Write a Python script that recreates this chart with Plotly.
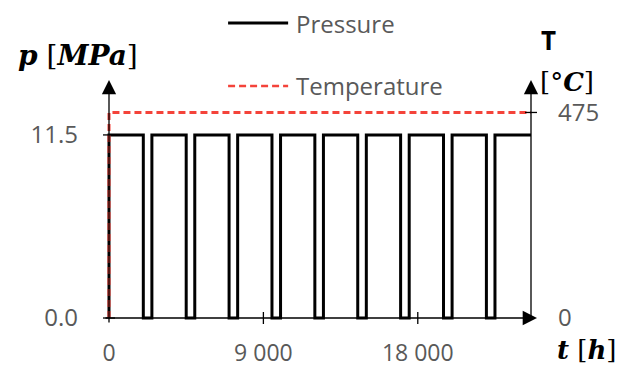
import plotly.graph_objects as go

# ---- data ----
t_end = 24600                      # h
p_level = 11.5                     # MPa
T_level = 475                      # deg C
shutdown_start = [2000, 4500, 7000, 9500, 12000, 14500, 17000, 19500, 22000]
shutdown_end = [2500, 5000, 7500, 10000, 12500, 15000, 17500, 20000, 22500]
x_tickvals = [0, 9000, 18000]
x_ticktext = ["0", "9 000", "18 000"]
p_tickvals = [0, 11.5]
p_ticktext = ["0.0", "11.5"]
T_tickvals = [0, 475]
T_ticktext = ["0", "475"]

# build pressure step signal
t_p = [0, 0]
p_p = [0, p_level]
for s, e in zip(shutdown_start, shutdown_end):
    t_p += [s, s, e, e]
    p_p += [p_level, 0, 0, p_level]
t_p.append(t_end)
p_p.append(p_level)

t_T = [0, 0, t_end]
T_T = [0, T_level, T_level]

# ---- geometry ----
W, H = 629, 367
X0PX, X1PX = 109, 530.7          # x=0 and x=t_end pixel columns
H_PER_PX = t_end / (X1PX - X0PX)
PAD = 6
x_range = [-PAD * H_PER_PX, t_end + PAD * H_PER_PX]
Y0PX, YTOP = 318.3, 80
p_per_px = p_level / (Y0PX - 135)
T_per_px = T_level / (Y0PX - 112.5)
p_top = (Y0PX - YTOP) * p_per_px
T_top = (Y0PX - YTOP) * T_per_px
p_range = [-PAD * p_per_px, p_top]
T_range = [-PAD * T_per_px, T_top]
ml = X0PX - PAD
mr = W - (X1PX + PAD)
mt = YTOP
mb = H - (Y0PX + PAD)

def px(xp):
    return (xp - ml) / (W - ml - mr)

def py(yp):
    return (H - mb - yp) / (H - mt - mb)

GRAY = "#595959"
RED = "#F4433A"
TICKFONT = dict(family="Open Sans", size=24, color=GRAY)

fig = go.Figure()
fig.add_trace(go.Scatter(x=t_p, y=p_p, mode="lines", name="Pressure",
                         line=dict(color="black", width=3), showlegend=False))
fig.add_trace(go.Scatter(x=t_T, y=T_T, mode="lines", name="Temperature", yaxis="y2",
                         line=dict(color=RED, width=3, dash="7px,4px"), showlegend=False))

fig.update_layout(
    width=W, height=H,
    margin=dict(l=ml, r=mr, t=mt, b=mb, pad=0, autoexpand=False),
    paper_bgcolor="white", plot_bgcolor="white",
    xaxis=dict(range=x_range, showgrid=False, zeroline=False, showline=False,
               tickvals=x_tickvals, ticktext=x_ticktext, ticks="",
               ticklabelstandoff=13, tickfont=dict(family="Open Sans", size=23, color=GRAY),
               fixedrange=True),
    yaxis=dict(range=p_range, showgrid=False, zeroline=False, showline=False,
               tickvals=p_tickvals, ticktext=p_ticktext, ticks="",
               ticklabelstandoff=24, tickfont=TICKFONT),
    yaxis2=dict(range=T_range, overlaying="y", side="right", showgrid=False,
                zeroline=False, showline=False, tickvals=T_tickvals,
                ticktext=T_ticktext, ticks="", ticklabelstandoff=20,
                tickfont=TICKFONT),
    showlegend=False,
)

shapes = []
for v in x_tickvals[1:]:
    shapes.append(dict(type="line", xref="x", yref="y", x0=v, x1=v,
                       ysizemode="pixel", yanchor=0, y0=-6, y1=6,
                       line=dict(color="black", width=1.3)))
for v in p_tickvals:
    shapes.append(dict(type="line", xref="x", yref="y", y0=v, y1=v,
                       xsizemode="pixel", xanchor=0, x0=-6, x1=6,
                       line=dict(color="black", width=1.3)))
shapes.append(dict(type="line", xref="x", yref="y2", y0=T_level, y1=T_level,
                   xsizemode="pixel", xanchor=t_end, x0=-6, x1=6,
                   line=dict(color="black", width=1.3)))
# legend samples
shapes.append(dict(type="line", xref="paper", yref="paper", x0=px(228), x1=px(288),
                   y0=py(23), y1=py(23), line=dict(color="black", width=3)))
shapes.append(dict(type="line", xref="paper", yref="paper", x0=px(228), x1=px(288),
                   y0=py(86), y1=py(86), line=dict(color=RED, width=2.5, dash="7px,4px")))
fig.update_layout(shapes=shapes)

arrow = dict(showarrow=True, arrowhead=2, arrowsize=2.2, arrowwidth=1.3,
             arrowcolor="black", standoff=0, text="", axref="x", ayref="y",
             xref="x", yref="y")
annotations = [
    dict(x=x_range[1], y=0, ax=x_range[0] + 1 * H_PER_PX, ay=0, **arrow),
    dict(x=0, y=p_top, ax=0, ay=p_range[0], **arrow),
    dict(x=t_end, y=p_top, ax=t_end, ay=0, **arrow),
]
TXT = dict(showarrow=False, xref="paper", yref="paper")
annotations += [
    dict(x=px(294), y=py(23), text="Pressure", xanchor="left", yanchor="middle",
         font=dict(family="Open Sans", size=24, color=GRAY), **TXT),
    dict(x=px(294), y=py(86), text="Temperature", xanchor="left", yanchor="middle",
         font=dict(family="Open Sans", size=24, color=GRAY), **TXT),
    dict(x=px(78), y=py(55), text="<b><i>p</i></b> [<b><i>MPa</i></b>]",
         xanchor="center", yanchor="middle",
         font=dict(family="DejaVu Serif", size=28, color="black"), **TXT),
    dict(x=px(548), y=py(40), text="<b>T</b>", xanchor="center", yanchor="middle",
         font=dict(family="Open Sans", size=26, color="black"), **TXT),
    dict(x=px(567), y=py(82), text="[°<b><i>C</i></b>]", xanchor="center", yanchor="middle",
         font=dict(family="DejaVu Serif", size=26, color="black"), **TXT),
    dict(x=px(587), y=py(350), text="<b><i>t</i></b> [<b><i>h</i></b>]",
         xanchor="center", yanchor="middle",
         font=dict(family="DejaVu Serif", size=26, color="black"), **TXT),
]
fig.update_layout(annotations=annotations)

fig.write_html("out.html")
